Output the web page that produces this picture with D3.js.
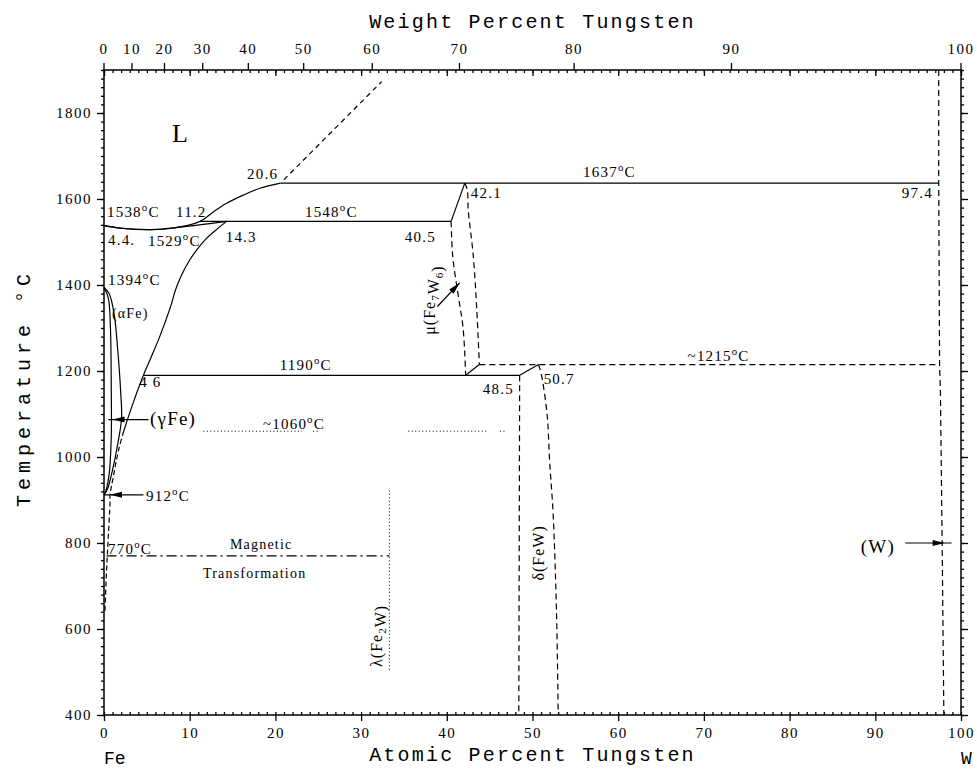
<!DOCTYPE html>
<html>
<head>
<meta charset="utf-8">
<script src="https://cdn.jsdelivr.net/npm/d3@7"></script>
<style>
body { margin: 0; background: #fff; }
</style>
</head>
<body>
<div id="chart"></div>
<script>
// axis ticks
var atTicks = d3.range(0, 101, 10);
var atMinor = d3.range(0, 101, 1);
var tempTicks = [400, 600, 800, 1000, 1200, 1400, 1600, 1800];
var tempMinor = d3.range(400, 1901, 20);
var wtTicks = d3.range(0, 101, 10);

// boundaries, points are [at.% W, temperature C]
var liquidus = [[0,1538],[2,1532],[5.5,1529],[8,1532],[11.2,1548],[12.75,1570],[14.3,1590],[16.25,1609],[18.2,1625],[20.6,1637]];
var solidus = [[0,1538],[2.5,1531],[5.5,1529],[9,1535],[14.3,1548]];
var alphaSolvus = [[14.3,1548],[13.07,1528],[11.8,1505],[10.8,1481],[10,1458],[9,1421],[8.3,1386],[7.9,1358],[6.5,1280],[5.5,1232],[4.6,1190],[3.3,1120],[2.3,1060]];
var alphaSolvusLow = [[2.3,1060],[1.7,1016],[1.0,945],[0.7,912],[0.7,893],[0.5,815],[0.3,737],[0.1,637]];
var gammaOuter = [[0,1394],[0.6,1380],[1.2,1330],[1.6,1250],[1.95,1150],[2.05,1090],[1.6,1030],[1.0,970],[0.4,925],[0,912]];
var gammaInner = [[0,1394],[0.5,1370],[0.75,1300],[0.85,1150],[0.85,1050],[0.6,960],[0.2,920],[0,912]];
var tieLines = [
  [[20.6,1637],[97.4,1637]],
  [[11.2,1548],[40.5,1548]],
  [[4.6,1190],[48.5,1190]],
  [[40.5,1548],[42.1,1637]],
  [[42.2,1190],[43.8,1215]],
  [[48.5,1190],[50.7,1215]]
];

// dashed boundaries
var muLeft = [[40.5,1548],[40.7,1465],[41.3,1380],[41.9,1300],[42.2,1190]];
var muRight = [[42.1,1637],[42.4,1620],[42.5,1575],[43.1,1466],[43.5,1342],[43.8,1215]];
var deltaLeft = [[48.5,1190],[48.4,400]];
var deltaRight = [[50.7,1215],[51.0,1195],[51.7,1100],[52.0,990],[52.4,870],[52.8,640],[53.0,400]];
var wSolvus = [[97.4,1900],[97.4,1637],[97.5,1215],[97.6,1150],[97.8,800],[98.0,400]];
var liquidusUp = [[21,1645],[32.4,1873]];
var line1215 = [[43.8,1215],[97.5,1215]];

// dotted and dash-dot lines
var dotted1060 = [[[11.6,1060],[23.1,1060]],[[24.4,1060],[25,1060]],[[35.5,1060],[44.8,1060]],[[46.2,1060],[46.8,1060]]];
var lambdaLine = [[33.3,505],[33.3,922]];
var magnetic = [[0.3,770],[33.3,770]];

// arrows: from, to (tip), line end
var arrows = [
  {from:[5.2,1087], tip:[1.0,1087], end:[0.5,1087]},
  {from:[4.6,912], tip:[0.7,912], end:[0,912]},
  {from:[38.9,1350], tip:[41.5,1405], end:[41.5,1405]},
  {from:[93.5,800], tip:[98.1,800], end:[98.9,800]}
];

// labels [text, at%, temperature, size]
var labels = [
  ["20.6",16.7,1647,15],["1637°C",55.9,1651,15],["42.1",42.8,1602,15],["97.4",93.1,1602,15],
  ["1538°C",0.35,1558,15],["11.2",8.4,1558,15],["1548°C",23.45,1558,15],
  ["4.4.",0.47,1493,15],["1529°C",5.13,1491,15],["14.3",14.2,1500,15],["40.5",35.1,1500,15],
  ["1394°C",0.47,1400,15],["(αFe)",0.93,1323,14],["1190°C",20.5,1202,15],["~1215°C",68.1,1223,15],
  ["4 6",4.1,1163,15],["48.5",44.2,1147,15],["50.7",51.3,1170,15],["(γFe)",5.37,1074,19],
  ["~1060°C",18.55,1065,15],["912°C",4.9,898,15],["770°C",0.47,774,15],
  ["Magnetic",14.7,786,14],["Transformation",11.55,719,14],["(W)",88.3,777,19]
];

var width = 977, height = 773;
var svg = d3.select("#chart").append("svg")
  .attr("width", width)
  .attr("height", height);

var x = d3.scaleLinear().domain([0, 100]).range([104, 961]);
var y = d3.scaleLinear().domain([400, 1900]).range([715, 70]);

function wtToAt(w) {
  var a = w / 183.84, b = (100 - w) / 55.845;
  return 100 * a / (a + b);
}

var serif = "'Liberation Serif', 'DejaVu Serif', serif";
var mono = "'Liberation Mono', 'DejaVu Sans Mono', monospace";

// axes
function styleAxis(g) {
  g.select(".domain").remove();
  g.selectAll("line").attr("stroke", "#000").attr("stroke-width", 1.3);
  g.selectAll("text")
    .style("font-family", serif)
    .style("font-size", "15px")
    .style("letter-spacing", "1.5px")
    .attr("fill", "#000");
}

svg.append("g").attr("transform", "translate(0,715)")
  .call(d3.axisBottom(x).tickValues(atTicks).tickSize(6).tickPadding(6).tickFormat(d3.format("d")))
  .call(styleAxis);
svg.append("g").attr("transform", "translate(0,715)")
  .call(d3.axisTop(x).tickValues(atMinor).tickSize(3).tickFormat(""))
  .call(styleAxis);
svg.append("g").attr("transform", "translate(0,70)")
  .call(d3.axisBottom(x).tickValues(atTicks).tickSize(6).tickFormat(""))
  .call(styleAxis);
svg.append("g").attr("transform", "translate(0,70)")
  .call(d3.axisBottom(x).tickValues(atMinor).tickSize(3).tickFormat(""))
  .call(styleAxis);
svg.append("g").attr("transform", "translate(104,0)")
  .call(d3.axisLeft(y).tickValues(tempTicks).tickSize(7).tickPadding(5).tickFormat(d3.format("d")))
  .call(styleAxis);
svg.append("g").attr("transform", "translate(104,0)")
  .call(d3.axisLeft(y).tickValues(tempMinor).tickSize(3).tickFormat(""))
  .call(styleAxis);
svg.append("g").attr("transform", "translate(961,0)")
  .call(d3.axisRight(y).tickValues(tempTicks).tickSize(7).tickFormat(""))
  .call(styleAxis);
svg.append("g").attr("transform", "translate(961,0)")
  .call(d3.axisRight(y).tickValues(tempMinor).tickSize(3).tickFormat(""))
  .call(styleAxis);

// weight percent ticks on top
var wt = svg.append("g");
wt.selectAll("line").data(wtTicks).enter().append("line")
  .attr("x1", function(d) { return x(wtToAt(d)); })
  .attr("x2", function(d) { return x(wtToAt(d)); })
  .attr("y1", 70).attr("y2", 63)
  .attr("stroke", "#000").attr("stroke-width", 1.3);
wt.selectAll("text").data(wtTicks).enter().append("text")
  .attr("x", function(d) { return x(wtToAt(d)); })
  .attr("y", 54)
  .attr("text-anchor", "middle")
  .text(function(d) { return d; })
  .style("font-family", serif)
  .style("font-size", "15px")
  .style("letter-spacing", "1.5px");

// frame
svg.append("rect")
  .attr("x", x(0)).attr("y", y(1900))
  .attr("width", x(100) - x(0)).attr("height", y(400) - y(1900))
  .attr("fill", "none").attr("stroke", "#000").attr("stroke-width", 1.5);

var curve = d3.line()
  .x(function(d) { return x(d[0]); })
  .y(function(d) { return y(d[1]); })
  .curve(d3.curveCatmullRom.alpha(0.5));
var straight = d3.line()
  .x(function(d) { return x(d[0]); })
  .y(function(d) { return y(d[1]); });

function draw(pts, gen, dash, w) {
  svg.append("path")
    .attr("d", gen(pts))
    .attr("fill", "none")
    .attr("stroke", "#000")
    .attr("stroke-width", w || 1.2)
    .attr("stroke-dasharray", dash || null);
}

draw(liquidus, curve);
draw(solidus, curve);
draw(alphaSolvus, curve);
draw(alphaSolvusLow, curve, "5,3");
draw(gammaOuter, curve);
draw(gammaInner, curve);
tieLines.forEach(function(t) { draw(t, straight); });

draw(muLeft, curve, "6,4");
draw(muRight, curve, "6,4");
draw(deltaLeft, straight, "6,4");
draw(deltaRight, curve, "6,4");
draw(wSolvus, straight, "6,4");
draw(liquidusUp, straight, "5,4");
draw(line1215, straight, "6,4");

dotted1060.forEach(function(t) { draw(t, straight, "1,2.5", 1); });
draw(lambdaLine, straight, "1,2.5", 1);
draw(magnetic, straight, "10,4,2,4", 1.1);

// arrows
arrows.forEach(function(a) {
  var x0 = x(a.from[0]), y0 = y(a.from[1]);
  var xt = x(a.tip[0]), yt = y(a.tip[1]);
  svg.append("line")
    .attr("x1", x0).attr("y1", y0)
    .attr("x2", x(a.end[0])).attr("y2", y(a.end[1]))
    .attr("stroke", "#000").attr("stroke-width", 1.2);
  var ang = Math.atan2(yt - y0, xt - x0);
  var len = 12, hw = 3;
  var bx = xt - len * Math.cos(ang), by = yt - len * Math.sin(ang);
  var px = -Math.sin(ang) * hw, py = Math.cos(ang) * hw;
  svg.append("polygon")
    .attr("points", [[xt, yt], [bx + px, by + py], [bx - px, by - py]].join(" "))
    .attr("fill", "#000");
});

// labels
function addLabel(g, s, size) {
  var parts = s.split("°");
  g.append("tspan").text(parts[0]);
  if (parts.length > 1) {
    g.append("tspan").attr("dy", -size * 0.4).style("font-size", (size * 0.72) + "px").text("o");
    g.append("tspan").attr("dy", size * 0.4).text(parts[1]);
  }
}

labels.forEach(function(l) {
  var t = svg.append("text")
    .attr("x", x(l[1]))
    .attr("y", y(l[2]))
    .style("font-family", serif)
    .style("font-size", l[3] + "px")
    .style("letter-spacing", "1.2px")
    .attr("fill", "#000");
  addLabel(t, l[0], l[3]);
});

svg.append("text")
  .attr("x", x(7.93)).attr("y", y(1733))
  .text("L")
  .style("font-family", serif)
  .style("font-size", "26px");

// rotated phase labels
function phaseLabel(at, temp, parts) {
  var t = svg.append("text")
    .attr("transform", "translate(" + x(at) + "," + y(temp) + ") rotate(-90)")
    .attr("text-anchor", "middle")
    .style("font-family", serif)
    .style("font-size", "16px")
    .style("letter-spacing", "1px");
  parts.forEach(function(p) {
    if (p.sub) {
      t.append("tspan").attr("dy", 4).style("font-size", "11px").text(p.sub);
      t.append("tspan").attr("dy", -4).text("");
    } else {
      t.append("tspan").text(p.s);
    }
  });
}
phaseLabel(38.6, 1365, [{s:"μ(Fe"},{sub:"7"},{s:"W"},{sub:"6"},{s:")"}]);
phaseLabel(32.4, 584, [{s:"λ(Fe"},{sub:"2"},{s:"W)"}]);
phaseLabel(51.3, 777, [{s:"δ(FeW)"}]);

// axis titles
svg.append("text")
  .attr("x", (x(0) + x(100)) / 2 + 0).attr("y", 28)
  .attr("text-anchor", "middle")
  .text("Weight Percent Tungsten")
  .style("font-family", mono).style("font-size", "20px").style("letter-spacing", "2.2px");
svg.append("text")
  .attr("x", (x(0) + x(100)) / 2).attr("y", 761)
  .attr("text-anchor", "middle")
  .text("Atomic Percent Tungsten")
  .style("font-family", mono).style("font-size", "20px").style("letter-spacing", "2.2px");
svg.append("text")
  .attr("transform", "translate(30,388) rotate(-90)")
  .attr("text-anchor", "middle")
  .text("Temperature °C")
  .style("font-family", mono).style("font-size", "20px").style("letter-spacing", "5px");
svg.append("text")
  .attr("x", x(0)).attr("y", 764)
  .text("Fe")
  .style("font-family", mono).style("font-size", "18px");
svg.append("text")
  .attr("x", x(100)).attr("y", 764)
  .text("W")
  .style("font-family", mono).style("font-size", "18px");
</script>
</body>
</html>
